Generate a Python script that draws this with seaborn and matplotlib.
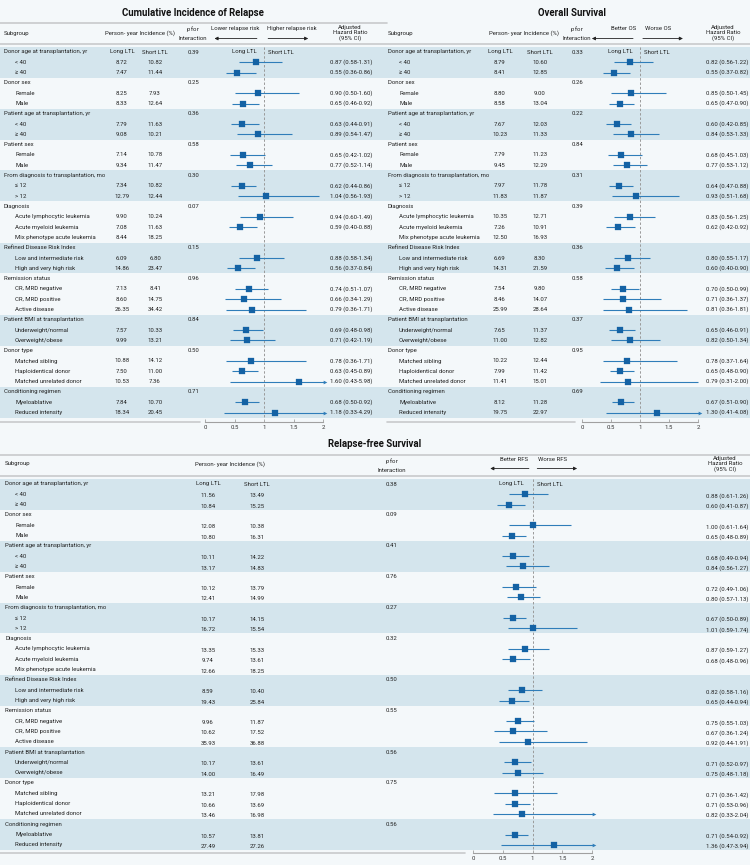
import numpy as np
import pandas as pd
import seaborn as sns
import matplotlib.pyplot as plt

sns.set_theme(style="white")
plt.rcParams['font.family'] = ['Roboto', 'DejaVu Sans']
plt.rcParams['mathtext.fontset'] = 'custom'
plt.rcParams['mathtext.it'] = 'Roboto:italic'
plt.rcParams['mathtext.rm'] = 'Roboto'

# ---- data -------------------------------------------------------------
groups = ["Donor age at transplantation, yr", "Donor sex",
          "Patient age at transplantation, yr", "Patient sex",
          "From diagnosis to transplantation, mo", "Diagnosis",
          "Refined Disease Risk Index", "Remission status",
          "Patient BMI at transplantation", "Donor type", "Conditioning regimen"]
items = [["< 40", "≥ 40"], ["Female", "Male"], ["< 40", "≥ 40"], ["Female", "Male"],
         ["≤ 12", "> 12"],
         ["Acute lymphocytic leukemia", "Acute myeloid leukemia", "Mix phenotype acute leukemia"],
         ["Low and intermediate risk", "High and very high risk"],
         ["CR, MRD negative", "CR, MRD positive", "Active disease"],
         ["Underweight/normal", "Overweight/obese"],
         ["Matched sibling", "Haploidentical donor", "Matched unrelated donor"],
         ["Myeloablative", "Reduced intensity"]]

na = np.nan
# Cumulative incidence of relapse
cir_long = [8.72, 7.47, 8.25, 8.33, 7.79, 9.08, 7.14, 9.34, 7.34, 12.79, 9.90, 7.08, 8.44,
            6.09, 14.86, 7.13, 8.60, 26.35, 7.57, 9.99, 10.88, 7.50, 10.53, 7.84, 18.34]
cir_short = [10.82, 11.44, 7.93, 12.64, 11.63, 10.21, 10.78, 11.47, 10.82, 12.44, 10.24, 11.63, 18.25,
             6.80, 23.47, 8.41, 14.75, 34.42, 10.33, 13.21, 14.12, 11.00, 7.36, 10.70, 20.45]
cir_p = ["0.39", "0.25", "0.36", "0.58", "0.30", "0.07", "0.15", "0.96", "0.84", "0.50", "0.71"]
cir_hr = [0.87, 0.55, 0.90, 0.65, 0.63, 0.89, 0.65, 0.77, 0.62, 1.04, 0.94, 0.59, na,
          0.88, 0.56, 0.74, 0.66, 0.79, 0.69, 0.71, 0.78, 0.63, 1.60, 0.68, 1.18]
cir_lo = [0.58, 0.36, 0.50, 0.46, 0.44, 0.54, 0.42, 0.52, 0.44, 0.56, 0.60, 0.40, na,
          0.58, 0.37, 0.51, 0.34, 0.36, 0.48, 0.42, 0.36, 0.45, 0.43, 0.50, 0.33]
cir_hi = [1.31, 0.86, 1.60, 0.92, 0.91, 1.47, 1.02, 1.14, 0.86, 1.93, 1.49, 0.88, na,
          1.34, 0.84, 1.07, 1.29, 1.71, 0.98, 1.19, 1.71, 0.89, 5.98, 0.92, 4.29]

# Overall survival
os_long = [8.79, 8.41, 8.80, 8.58, 7.67, 10.23, 7.79, 9.45, 7.97, 11.83, 10.35, 7.26, 12.50,
           6.69, 14.31, 7.54, 8.46, 25.99, 7.65, 11.00, 10.22, 7.99, 11.41, 8.12, 19.75]
os_short = [10.60, 12.85, 9.00, 13.04, 12.03, 11.33, 11.23, 12.29, 11.78, 11.87, 12.71, 10.91, 16.93,
            8.30, 21.59, 9.80, 14.07, 28.64, 11.37, 12.82, 12.44, 11.42, 15.01, 11.28, 22.97]
os_p = ["0.33", "0.26", "0.22", "0.84", "0.31", "0.39", "0.36", "0.58", "0.37", "0.95", "0.69"]
os_hr = [0.82, 0.55, 0.85, 0.65, 0.60, 0.84, 0.68, 0.77, 0.64, 0.93, 0.83, 0.62, na,
         0.80, 0.60, 0.70, 0.71, 0.81, 0.65, 0.82, 0.78, 0.65, 0.79, 0.67, 1.30]
os_lo = [0.56, 0.37, 0.50, 0.47, 0.42, 0.53, 0.45, 0.53, 0.47, 0.51, 0.56, 0.42, na,
         0.55, 0.40, 0.50, 0.36, 0.36, 0.46, 0.50, 0.37, 0.48, 0.31, 0.51, 0.41]
os_hi = [1.22, 0.82, 1.45, 0.90, 0.85, 1.33, 1.03, 1.12, 0.88, 1.68, 1.25, 0.92, na,
         1.17, 0.90, 0.99, 1.37, 1.81, 0.91, 1.34, 1.64, 0.90, 2.00, 0.90, 4.08]

# Relapse-free survival
rfs_long = [11.56, 10.84, 12.08, 10.80, 10.11, 13.17, 10.12, 12.41, 10.17, 16.72, 13.35, 9.74, 12.66,
            8.59, 19.43, 9.96, 10.62, 35.93, 10.17, 14.00, 13.21, 10.66, 13.46, 10.57, 27.49]
rfs_short = [13.49, 15.25, 10.38, 16.31, 14.22, 14.83, 13.79, 14.99, 14.15, 15.54, 15.33, 13.61, 18.25,
             10.40, 25.84, 11.87, 17.52, 36.88, 13.61, 16.49, 17.98, 13.69, 16.98, 13.81, 27.26]
rfs_p = ["0.38", "0.09", "0.41", "0.76", "0.27", "0.32", "0.50", "0.55", "0.56", "0.75", "0.56"]
rfs_hr = [0.88, 0.60, 1.00, 0.65, 0.68, 0.84, 0.72, 0.80, 0.67, 1.01, 0.87, 0.68, na,
          0.82, 0.65, 0.75, 0.67, 0.92, 0.71, 0.75, 0.71, 0.71, 0.82, 0.71, 1.36]
rfs_lo = [0.61, 0.41, 0.61, 0.48, 0.49, 0.56, 0.49, 0.57, 0.50, 0.59, 0.59, 0.48, na,
          0.58, 0.44, 0.55, 0.36, 0.44, 0.52, 0.48, 0.36, 0.53, 0.33, 0.54, 0.47]
rfs_hi = [1.26, 0.87, 1.64, 0.89, 0.94, 1.27, 1.06, 1.13, 0.89, 1.74, 1.27, 0.96, na,
          1.16, 0.94, 1.03, 1.24, 1.91, 0.97, 1.18, 1.42, 0.96, 2.04, 0.92, 3.94]

# ---- style ------------------------------------------------------------
W, H = 750, 865
BG = '#f4f8fa'
BAND = '#d4e5ed'
RULE = '#c8cacc'
TXT = '#222222'
LINE_C = '#2f7db9'
SQ_C = '#1462a4'
FS = 4.3

fig = plt.figure(figsize=(7.5, 8.65), dpi=100, facecolor=BG)


def px_axes(x, y, w, h):
    return fig.add_axes([x / W, 1 - (y + h) / H, w / W, h / H])


def build(long_, short_, p, hr, lo, hi):
    rows = []
    k = 0
    for g, name in enumerate(groups):
        rows.append(dict(label=name, group=g, header=True, p=p[g]))
        for it in items[g]:
            rows.append(dict(label=it, group=g, header=False, long=long_[k], short=short_[k],
                             hr=hr[k], lo=lo[k], hi=hi[k]))
            k += 1
    d = pd.DataFrame(rows)
    d['row'] = np.arange(len(d))
    return d


def panel(d, s):
    r0, st = s['r0'], s['step']
    yr = lambda y: (y - r0) / st
    tab = px_axes(s['x0'], s['top'], s['w'], s['bot'] - s['top'])
    tab.set_xlim(s['x0'], s['x0'] + s['w'])
    tab.set_ylim(yr(s['bot']), yr(s['top']))
    tab.axis('off')

    # bands
    for g in range(0, len(groups), 2):
        rr = d.loc[d.group == g, 'row']
        tab.axhspan(rr.min() - 0.5, rr.max() + 0.5, color=BAND, lw=0, zorder=0)

    # rules
    tab.axhline(yr(s['rule2']), color=RULE, lw=1.2)
    if s.get('rule1') is not None:
        y1, xa, xb = s['rule1']
        tab.plot([xa, xb], [yr(y1)] * 2, color=RULE, lw=1.2, clip_on=False)
    xa, xb = s['bline']
    tab.plot([xa, xb], [yr(s['bot'])] * 2, color=RULE, lw=1.2, clip_on=False)

    # title and header
    tab.text(s['title_x'], yr(s['title_y']), s['title'], ha='center', va='center',
             fontsize=6.9, fontweight='bold', color='#111111')
    hy = yr(s['head_y'])
    tab.text(s['sub'], hy, "Subgroup", ha='left', va='center', fontsize=FS, color=TXT)
    tab.text(s['inc_head'], hy, "Person- year Incidence (%)", ha='center', va='center',
             fontsize=FS, color=TXT)
    tab.text(s['p'], hy, "$\\it{p}$ for\nInteraction", ha='center', va='center',
             fontsize=FS, color=TXT, linespacing=1.5)
    tab.text(s['hr_head'], hy, "Adjusted\nHazard Ratio\n(95% CI)", ha='center', va='center',
             fontsize=FS, color=TXT, linespacing=1.1)
    tab.text(s['long'], 0, "Long LTL", ha='center', va='center', fontsize=FS, color=TXT)
    tab.text(s['short'], 0, "Short LTL", ha='center', va='center', fontsize=FS, color=TXT)

    dy = s.get('num_dy', 0)
    for _, r in d.iterrows():
        if r.header:
            tab.text(s['sub'], r.row, r.label, ha='left', va='center', fontsize=FS, color=TXT)
            tab.text(s['p'], r.row, r.p, ha='center', va='center', fontsize=FS, color=TXT)
        else:
            tab.text(s['ind'], r.row, r.label, ha='left', va='center', fontsize=FS, color=TXT)
            tab.text(s['long'], r.row + dy, f"{r.long:.2f}", ha='center', va='center',
                     fontsize=FS, color=TXT)
            tab.text(s['short'], r.row + dy, f"{r.short:.2f}", ha='center', va='center',
                     fontsize=FS, color=TXT)
            if not np.isnan(r.hr):
                tab.text(s['hr_right'], r.row + dy, f"{r.hr:.2f} ({r.lo:.2f}-{r.hi:.2f})",
                         ha='right', va='center', fontsize=FS, color=TXT)

    # forest
    fa, fb = s['forest']
    fx = px_axes(fa, s['top'], fb - fa, s['bot'] - s['top'])
    fx.set_facecolor('none')
    fx.set_xlim(0, 2)
    fx.set_ylim(tab.get_ylim())
    pts = d.dropna(subset=['hr'])
    fx.vlines(1, -0.5, d.row.max() + 0.5, colors='#9a9a9a', lw=0.7,
              linestyles=(0, (2.5, 2)), zorder=1)
    fx.hlines(pts.row, pts.lo, np.minimum(pts.hi, 2.02), colors=LINE_C, lw=0.8,
              zorder=2, clip_on=False)
    arr = pts[pts.hi > 2.02]
    fx.scatter(np.full(len(arr), 2.03), arr.row, marker='>', s=7, color=LINE_C,
               lw=0, zorder=2, clip_on=False)
    sns.scatterplot(data=pts, x='hr', y='row', marker='s', s=24, color=SQ_C,
                    edgecolor=SQ_C, linewidth=0.2, ax=fx, legend=False, zorder=3,
                    clip_on=False)
    fx.text(1 - s['lab_gap'], 0, "Long LTL", ha='right', va='center', fontsize=FS, color=TXT)
    fx.text(1 + s['lab_gap'] * 0.5, 0, "Short LTL", ha='left', va='center', fontsize=FS, color=TXT)

    # direction arrows
    ay = yr(s['arrow_y'])
    ty = yr(s['head_y']) - 0.15
    (l0, l1), (h0, h1) = s['arrows']
    fx.annotate("", xy=(l1, ay), xytext=(l0, ay),
                arrowprops=dict(arrowstyle='-|>', color='#222222', lw=0.6,
                                mutation_scale=5, shrinkA=0, shrinkB=0), annotation_clip=False)
    fx.annotate("", xy=(h1, ay), xytext=(h0, ay),
                arrowprops=dict(arrowstyle='-|>', color='#222222', lw=0.6,
                                mutation_scale=5, shrinkA=0, shrinkB=0), annotation_clip=False)
    (tl, tlx), (th, thx) = s['arrow_txt']
    fx.text(tlx, ty, tl, ha='center', va='bottom', fontsize=FS, color=TXT)
    fx.text(thx, ty, th, ha='center', va='bottom', fontsize=FS, color=TXT)

    sns.despine(ax=fx, left=True, top=True, right=True)
    fx.spines['bottom'].set_color('#a0a0a0')
    fx.spines['bottom'].set_linewidth(0.8)
    fx.set_yticks([])
    fx.set_xticks([0, 0.5, 1, 1.5, 2])
    fx.set_xticklabels(['0', '0.5', '1', '1.5', '2'])
    fx.tick_params(axis='x', labelsize=FS, colors='#a0a0a0', labelcolor='#333333',
                   length=2.5, width=0.6, direction='in', pad=2.5, bottom=True)
    fx.set_xlabel('')
    fx.set_ylabel('')


cir = build(cir_long, cir_short, cir_p, cir_hr, cir_lo, cir_hi)
osd = build(os_long, os_short, os_p, os_hr, os_lo, os_hi)
rfs = build(rfs_long, rfs_short, rfs_p, rfs_hr, rfs_lo, rfs_hi)

top_common = dict(top=0, bot=422, r0=52, step=10.3, title_y=12.5, head_y=33,
                  rule2=44.3, arrow_y=38.5, lab_gap=0.13)

panel(cir, dict(top_common, x0=0, w=375, title="Cumulative Incidence of Relapse",
                title_x=193, sub=4, ind=15, long=122, short=155, p=193,
                inc_head=140, hr_head=350, hr_right=373, forest=(205, 323),
                rule1=(22.7, 0, 387), bline=(0, 200),
                arrows=((0.88, 0.16), (1.07, 1.75)),
                arrow_txt=(("Lower relapse risk", 0.51), ("Higher relapse risk", 1.47))))

panel(osd, dict(top_common, x0=375, w=375, title="Overall Survival",
                title_x=572, sub=388, ind=399, long=500, short=540, p=577,
                inc_head=524, hr_head=723, hr_right=748, forest=(582, 698),
                rule1=None, bline=(387, 575),
                arrows=((0.88, 0.17), (1.05, 1.74)),
                arrow_txt=(("Better OS", 0.71), ("Worse OS", 1.31))))

panel(rfs, dict(top=432, bot=853, r0=484, step=10.31, title_y=444, head_y=464,
                rule2=475.5, arrow_y=468.5, lab_gap=0.15, num_dy=0.15,
                x0=0, w=750, title="Relapse-free Survival",
                title_x=375, sub=5, ind=15, long=208, short=257, p=392,
                inc_head=230, hr_head=725, hr_right=748, forest=(473, 592),
                rule1=(454.5, 0, 750), bline=(0, 465),
                arrows=((0.94, 0.29), (1.08, 1.75)),
                arrow_txt=(("Better RFS", 0.69), ("Worse RFS", 1.34))))

fig.savefig("out.png", dpi=100, facecolor=BG)
